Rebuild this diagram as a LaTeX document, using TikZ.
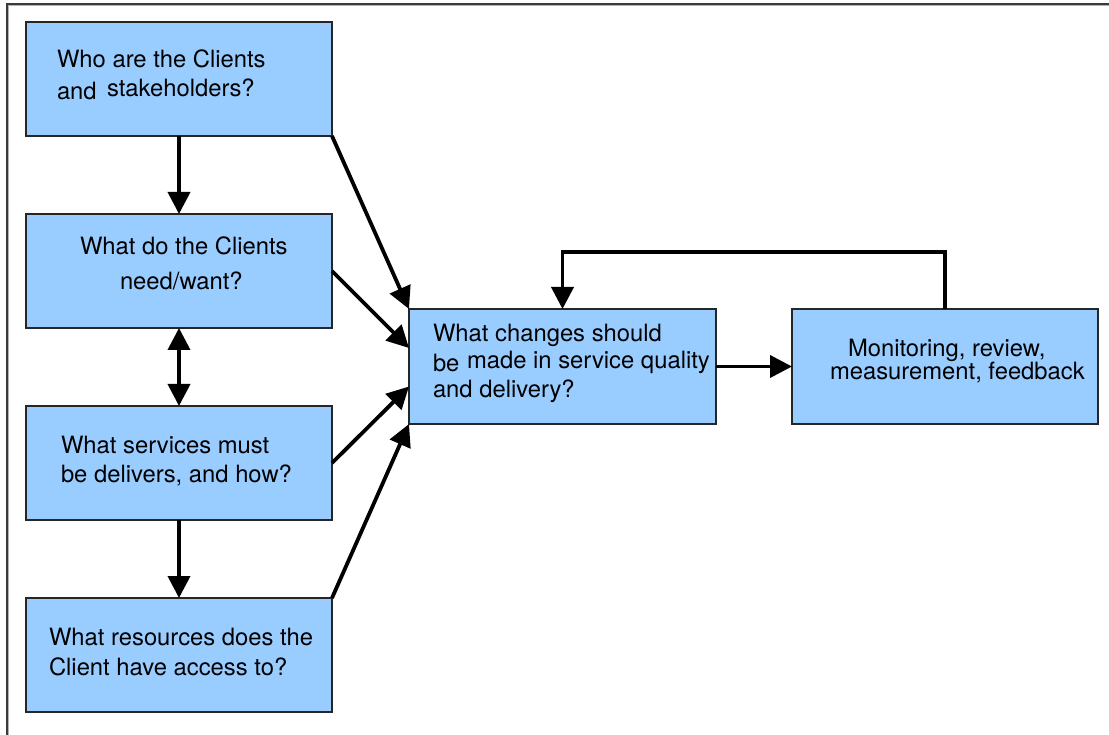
\documentclass[tikz,border=0pt]{standalone}
\usepackage{fontspec}
\setmainfont{TeX Gyre Heros}
\usetikzlibrary{arrows.meta,calc}

\definecolor{boxblue}{HTML}{99CCFF}
\definecolor{framegray}{HTML}{3A3A3A}

\tikzset{
  qbox/.style={draw=black!85, line width=1.2pt, fill=boxblue,
    minimum width=306pt, minimum height=114pt, inner sep=0pt, outer sep=0pt},
  txt/.style={anchor=base west, inner sep=0pt, outer sep=0pt,
    font=\fontsize{23.8}{28}\selectfont},
  tip/.style={Triangle[length=22pt,width=22pt]},
  arr/.style={line width=3.8pt, -{Triangle[length=22pt,width=22pt]}},
  dblarr/.style={line width=3.8pt, {Triangle[length=22pt,width=22pt]}-{Triangle[length=22pt,width=22pt]}}
}

\begin{document}
\begin{tikzpicture}[x=1pt, y=-1pt]
\useasboundingbox (0,0) rectangle (1109,735);

% page frame (top and left edges)
\draw[framegray, line width=1.3pt] (7,735) -- (7,4) -- (1109,4);
\draw[black!30, line width=0.8pt] (8.6,735) -- (8.6,5.6) -- (1109,5.6);

% question boxes on the left
\node[qbox] (b1) at (179,79)  {};
\node[qbox] (b2) at (179,271) {};
\node[qbox] (b3) at (179,463) {};
\node[qbox] (b4) at (179,655) {};

% central box and monitoring box
\node[qbox, minimum width=307pt, minimum height=115pt] (c) at (562.5,366.5) {};
\node[qbox, minimum height=115pt] (r) at (945,366.5) {};

% box texts
\node[txt] (t1a) at (57,68)  {Who are the Clients};
\node[txt] (t1b) at (57,100) {and};
\node[txt] (t1c) at (107,97) {stakeholders?};

\node[txt] (t2a) at (80,255)  {What do the Clients};
\node[txt] (t2b) at (120,290) {need/want?};

\node[txt] (t3a) at (61,453) {What services must};
\node[txt] (t3b) at (61,482) {be delivers, and how?};

\node[txt] (t4a) at (49,645) {What resources does the};
\node[txt] (t4b) at (49,675) {Client have access to?};

\node[txt] (tca) at (433,342) {What changes should};
\node[txt] (tcb) at (433,372) {be};
\node[txt] (tcc) at (467,369) {made in service quality};
\node[txt] (tcd) at (433,397) {and delivery?};

\node[txt] (tra) at (848,357) {Monitoring, review,};
\node[txt] (trb) at (830,380) {measurement, feedback};

% connectors down the left column
\draw[arr] (b1) -- (b2);
\draw[dblarr] (b2) -- (b3);
\draw[arr] (b3) -- (b4);

% connectors into the central box
\draw[arr] (b1.south east) -- (c.north west);
\draw[arr] (b2.east) -- ([yshift=18.5pt]c.west);
\draw[arr] (b3.east) -- ([yshift=-20pt]c.west);
\draw[arr] (b4.north east) -- (c.south west);

% central box to monitoring, and the feedback loop
\draw[arr] (c.east) -- (r.west);
\draw[arr] (r.north) |- ($(c.north)+(0,-57)$) -- (c.north);
\end{tikzpicture}
\end{document}
